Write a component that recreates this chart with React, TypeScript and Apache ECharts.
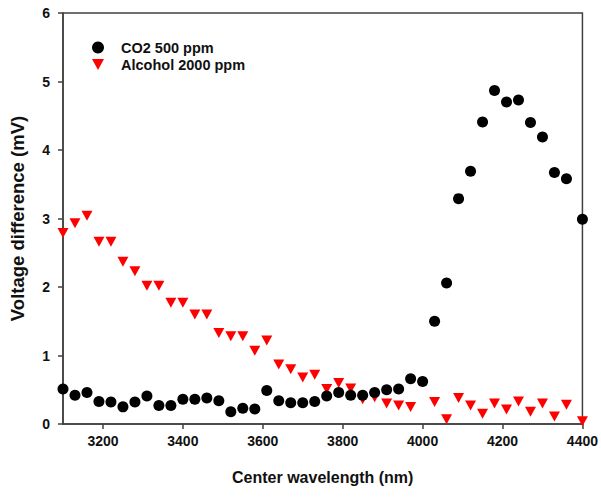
import React, { useEffect, useRef } from "react";
import * as echarts from "echarts";

const co2Wavelengths = [
  3100, 3130, 3160, 3190, 3220, 3250, 3280, 3310, 3340, 3370, 3400, 3430, 3460, 3490, 3520,
  3550, 3580, 3610, 3640, 3670, 3700, 3730, 3760, 3790, 3820, 3850, 3880, 3910, 3940, 3970,
  4000, 4030, 4060, 4090, 4120, 4150, 4180, 4210, 4240, 4270, 4300, 4330, 4360, 4400,
];
const co2Values = [
  0.51, 0.42, 0.46, 0.33, 0.32, 0.25, 0.32, 0.41, 0.27, 0.27, 0.36, 0.36, 0.38, 0.34, 0.18,
  0.23, 0.22, 0.49, 0.34, 0.31, 0.31, 0.33, 0.41, 0.46, 0.42, 0.42, 0.46, 0.5, 0.51, 0.66,
  0.62, 1.5, 2.06, 3.29, 3.69, 4.41, 4.87, 4.7, 4.73, 4.4, 4.19, 3.67, 3.58, 2.99,
];

const alcoholWavelengths = [
  3100, 3130, 3160, 3190, 3220, 3250, 3280, 3310, 3340, 3370, 3400, 3430, 3460, 3490, 3520,
  3550, 3580, 3610, 3640, 3670, 3700, 3730, 3760, 3790, 3820, 3850, 3880, 3910, 3940, 3970,
  4030, 4060, 4090, 4120, 4150, 4180, 4210, 4240, 4270, 4300, 4330, 4360, 4400,
];
const alcoholValues = [
  2.79, 2.93, 3.04, 2.66, 2.66, 2.37, 2.23, 2.02, 2.02, 1.77, 1.77, 1.6, 1.6, 1.33, 1.28,
  1.28, 1.07, 1.22, 0.87, 0.8, 0.68, 0.72, 0.51, 0.6, 0.52, 0.36, 0.39, 0.3, 0.27, 0.25,
  0.32, 0.07, 0.38, 0.27, 0.15, 0.3, 0.21, 0.33, 0.18, 0.3, 0.11, 0.28, 0.04,
];

const xTicks = [3200, 3400, 3600, 3800, 4000, 4200, 4400];
const seriesNames = ["CO2 500 ppm", "Alcohol 2000 ppm"];
const xTitle = "Center wavelength (nm)";
const yTitle = "Voltage difference (mV)";

const TRI = "path://M0,0L10,0L5,9Z";
const FONT = "'Liberation Sans', Arial, sans-serif";

export default function App() {
  const ref = useRef<HTMLDivElement>(null);
  useEffect(() => {
    if (!ref.current) return;
    const chart = echarts.init(ref.current, null, { renderer: "svg" });
    const axisColor = "#404040";
    chart.setOption({
      animation: false,
      backgroundColor: "#ffffff",
      grid: {
        left: 60,
        right: 17,
        top: 13,
        bottom: 74,
        show: true,
        borderColor: axisColor,
        borderWidth: 1.5,
        backgroundColor: "transparent",
      },
      legend: {
        orient: "vertical",
        left: 87,
        top: 35,
        itemWidth: 12,
        itemHeight: 12,
        itemGap: 2,
        textStyle: {
          fontFamily: FONT,
          fontWeight: "bold",
          fontSize: 14.5,
          color: "#111",
          padding: [0, 0, 0, 12],
        },
        data: [
          { name: seriesNames[0], icon: "circle" },
          { name: seriesNames[1], icon: TRI },
        ],
      },
      xAxis: {
        type: "value",
        min: 3100,
        max: 4400,
        name: xTitle,
        nameLocation: "middle",
        nameGap: 45,
        nameTextStyle: { fontFamily: FONT, fontWeight: "bold", fontSize: 16, color: "#111" },
        splitLine: { show: false },
        axisLine: { show: true, lineStyle: { color: axisColor, width: 1.5 } },
        axisTick: { show: true, length: 5, lineStyle: { color: axisColor, width: 1.5 }, customValues: xTicks },
        axisLabel: {
          customValues: xTicks,
          formatter: (v: number) => String(v),
          margin: 10,
          fontFamily: FONT,
          fontWeight: "bold",
          fontSize: 14,
          color: "#111",
        },
      },
      yAxis: {
        type: "value",
        min: 0,
        max: 6,
        interval: 1,
        name: yTitle,
        nameLocation: "middle",
        nameGap: 36,
        nameTextStyle: { fontFamily: FONT, fontWeight: "bold", fontSize: 18.5, color: "#111" },
        splitLine: { show: false },
        axisLine: { show: true, lineStyle: { color: axisColor, width: 1.5 } },
        axisTick: { show: true, length: 5, lineStyle: { color: axisColor, width: 1.5 } },
        axisLabel: {
          formatter: (v: number) => String(v),
          margin: 13,
          fontFamily: FONT,
          fontWeight: "bold",
          fontSize: 14,
          color: "#111",
        },
      },
      series: [
        {
          name: seriesNames[0],
          type: "scatter",
          symbol: "circle",
          symbolSize: 11,
          itemStyle: { color: "#000000", opacity: 1 },
          data: co2Wavelengths.map((x, i) => [x, co2Values[i]]),
          z: 3,
        },
        {
          name: seriesNames[1],
          type: "scatter",
          symbol: TRI,
          symbolSize: [11, 10],
          itemStyle: { color: "#ff0000", opacity: 1 },
          data: alcoholWavelengths.map((x, i) => [x, alcoholValues[i]]),
          z: 2,
        },
      ],
    });
    return () => chart.dispose();
  }, []);
  return (
    <div
      ref={ref}
      style={{ position: "fixed", left: 0, top: 0, width: 601, height: 498, background: "#fff" }}
    />
  );
}
